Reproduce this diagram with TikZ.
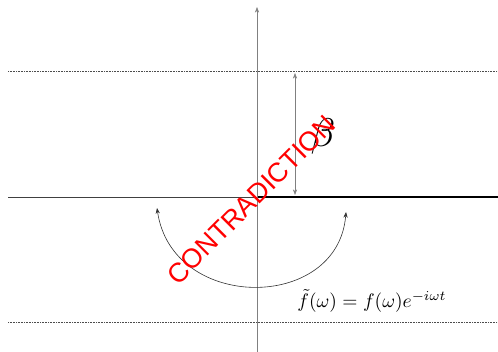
\documentclass[tikz,border=0pt]{standalone}
\usepackage{fontspec}
\newfontfamily\stampfont{Liberation Sans}
\usetikzlibrary{arrows.meta}

\begin{document}
\begin{tikzpicture}[
    x=1pt, y=-1pt,
    >=Stealth,
    axis/.style={->, draw=black!50, semithick},
    realline/.style={draw=black!75, semithick},
    cut/.style={draw=black, line width=1.6pt},
    guide/.style={densely dotted, draw=black!70, semithick},
    gap/.style={<->, draw=black!50, semithick},
    swing/.style={<->, draw=black!80, semithick},
    stamp/.style={
        text=red, rotate=45, inner sep=0pt,
        font=\stampfont\fontsize{27}{30}\selectfont,
    },
]
\useasboundingbox (0,0) rectangle (498,352);

% key points
\def\ax{257}    % vertical axis
\def\ry{197}    % real line
\coordinate (O)   at (\ax,\ry);
\coordinate (Ab)  at (\ax,352);
\coordinate (At)  at (\ax,7);
\coordinate (Rl)  at (8,\ry);
\coordinate (Rr)  at (498,\ry);
\coordinate (Gt)  at (295,73);
\coordinate (Gb)  at (295,195);
\coordinate (Sl)  at (157,208);
\coordinate (Sr)  at (346,212);

% dotted strip boundaries
\draw[guide] (8,71) coordinate (Ul) -- (498,71) coordinate (Ur);
\draw[guide] (8,322) coordinate (Ll) -- (498,322) coordinate (Lr);

% axes
\draw[realline] (Rl) -- (O);
\draw[cut] (O) -- (Rr);
\draw[axis] (Ab) -- (At);

% strip width
\draw[gap] (Gt) -- (Gb);
\node (beta) at (323,137) {\scalebox{4}{$\beta$}};

% rotation arc
\draw[swing] (Sl) .. controls (172,312) and (338,312) .. (Sr);
\node (shift) at (372,301) {\scalebox{1.95}{$\tilde{f}(\omega) = f(\omega)e^{-i\omega t}$}};

% stamp
\node[stamp] (contra) at (251,200) {CONTRADICTION};

\end{tikzpicture}
\end{document}
